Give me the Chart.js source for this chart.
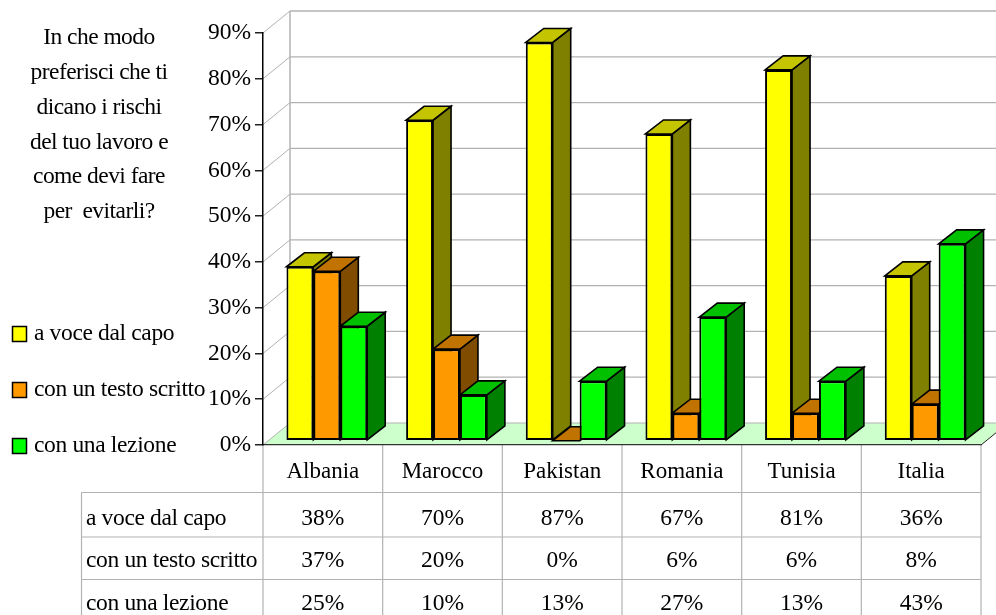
<!DOCTYPE html>
<html><head><meta charset="utf-8">
<style>html,body{margin:0;padding:0;background:#fff}canvas{display:block}</style>
<script src="https://cdn.jsdelivr.net/npm/chart.js@4"></script>
</head><body><canvas id="c" width="996" height="615"></canvas>
<script>
const categories = ["Albania","Marocco","Pakistan","Romania","Tunisia","Italia"];
const voce = [38,70,87,67,81,36];
const testo = [37,20,0,6,6,8];
const lezione = [25,10,13,27,13,43];
const seriesNames = ["a voce dal capo","con un testo scritto","con una lezione"];
const yTicks = [0,10,20,30,40,50,60,70,80,90];
const titleLines = ["In che modo","preferisci che ti","dicano i rischi","del tuo lavoro e","come devi fare","per  evitarli?"];

const FONT = '"Liberation Serif"';
const fs = 23.5;
const tight = "-0.35px";
const wallDX = 27, wallDY = -22;
const barDX = 18, barDY = -14;
const shiftX = 4, shiftY = -4.3;
const side = ["#808000","#804d00","#008000"];
const topc = ["#c4c400","#c07300","#00c000"];
const grey = "#b2b2b2";

function line(ctx,x1,y1,x2,y2,c,w){ctx.strokeStyle=c;ctx.lineWidth=w||1;ctx.beginPath();ctx.moveTo(x1,y1);ctx.lineTo(x2,y2);ctx.stroke();}
function poly(ctx,pts,fill,stroke,w){ctx.beginPath();pts.forEach((p,i)=>i?ctx.lineTo(p[0],p[1]):ctx.moveTo(p[0],p[1]));ctx.closePath();
  if(fill){ctx.fillStyle=fill;ctx.fill();} if(stroke){ctx.strokeStyle=stroke;ctx.lineWidth=w||1;ctx.lineJoin="miter";ctx.stroke();}}

const scene = {
  id:"scene",
  beforeDraw(chart){
    const ctx=chart.ctx, x=chart.scales.x, y=chart.scales.y;
    const L=x.left, R=x.right, B=y.getPixelForValue(0);
    ctx.save();
    ctx.fillStyle="#fff";ctx.fillRect(0,0,chart.width,chart.height);
    // floor
    poly(ctx,[[L,B],[L+wallDX,B+wallDY],[R+wallDX,B+wallDY],[R,B]],"#ccffcc");
    // walls
    yTicks.forEach(v=>{
      const py=y.getPixelForValue(v);
      line(ctx,L,py,L+wallDX,py+wallDY,grey,1);
      line(ctx,L+wallDX,py+wallDY,chart.width,py+wallDY,grey,v===90?1.5:1.2);
    });
    line(ctx,L+wallDX,y.getPixelForValue(90)+wallDY,L+wallDX,B+wallDY,grey,1.5);
    line(ctx,R,B,R+wallDX,B+wallDY,"#222",1);
    // data table
    const rowY=[492.5,537,579.5];
    const colX=categories.map((c,i)=>L+(R-L)*i/categories.length).concat([R]);
    colX.forEach(cx=>line(ctx,cx,B,cx,chart.height,grey,1.2));
    line(ctx,81.5,rowY[0],81.5,chart.height,grey,1.2);
    rowY.forEach(ry=>line(ctx,81.5,ry,R,ry,grey,1.2));
    ctx.fillStyle="#000";ctx.font=fs+"px "+FONT;ctx.textBaseline="middle";
    const rowText=[519,561,604];
    chart.data.datasets.forEach((d,r)=>{
      ctx.letterSpacing=tight;
      ctx.textAlign="left";ctx.fillText(d.label,86,rowText[r]);
      ctx.letterSpacing="0px";
      ctx.textAlign="center";
      d.data.forEach((v,i)=>ctx.fillText(v+"%",x.getPixelForValue(i),rowText[r]));
    });
    // title
    ctx.letterSpacing="-0.55px";
    ctx.textAlign="center";
    titleLines.forEach((t,i)=>ctx.fillText(t,99,38+i*34.8));
    // legend
    ctx.letterSpacing=tight;
    const ly=[334,390,446];
    chart.data.datasets.forEach((d,r)=>{
      ctx.fillStyle=d.backgroundColor;ctx.strokeStyle="#000";ctx.lineWidth=1.5;
      ctx.fillRect(12.5,ly[r]-7.5,14,15);ctx.strokeRect(12.5,ly[r]-7.5,14,15);
      ctx.fillStyle="#000";ctx.textAlign="left";ctx.fillText(d.label,34,ly[r]);
    });
    ctx.letterSpacing="0px";
    ctx.restore();
  },
  beforeDatasetsDraw(chart){
    const ctx=chart.ctx;
    ctx.save();
    ctx.translate(shiftX,shiftY);
    categories.forEach((c,i)=>{
      chart.data.datasets.forEach((d,s)=>{
        const b=chart.getDatasetMeta(s).data[i].getProps(["x","y","base","width"],true);
        const l=b.x-b.width/2,r=b.x+b.width/2;
        poly(ctx,[[r,b.y],[r+barDX,b.y+barDY],[r+barDX,b.base+barDY],[r,b.base]],side[s],"#000",1.6);
        poly(ctx,[[l,b.y],[l+barDX,b.y+barDY],[r+barDX,b.y+barDY],[r,b.y]],topc[s],"#000",1.6);
      });
    });
  },
  afterDatasetsDraw(chart){chart.ctx.restore();}
};

const colors=["#ffff00","#ff9900","#00ff00"];
new Chart(document.getElementById("c"),{
  type:"bar",
  data:{labels:categories,datasets:[voce,testo,lezione].map((v,i)=>({
    label:seriesNames[i],data:v,backgroundColor:colors[i],borderColor:"#000",borderWidth:2,borderSkipped:false,
    categoryPercentage:0.675,barPercentage:1,clip:false}))},
  options:{
    responsive:false,animation:false,devicePixelRatio:1,
    layout:{padding:{left:0,right:15,top:33,bottom:0}},
    plugins:{legend:{display:false},title:{display:false},tooltip:{enabled:false}},
    scales:{
      x:{grid:{display:false},border:{color:"#333",width:1.2},
        ticks:{color:"#000",padding:5,font:{family:FONT,size:23},maxRotation:0},
        afterFit(s){s.height=170;}},
      y:{min:0,max:90,afterBuildTicks(s){s.ticks=yTicks.map(v=>({value:v}));},
        grid:{drawOnChartArea:false,drawTicks:true,tickLength:8,color:"#222",lineWidth:1.5},
        border:{color:"#000",width:1.5},
        ticks:{color:"#000",padding:4,font:{family:FONT,size:fs},callback:v=>v+"%"},
        afterFit(s){s.width=263;}}
    }
  },
  plugins:[scene]
});
</script></body></html>
